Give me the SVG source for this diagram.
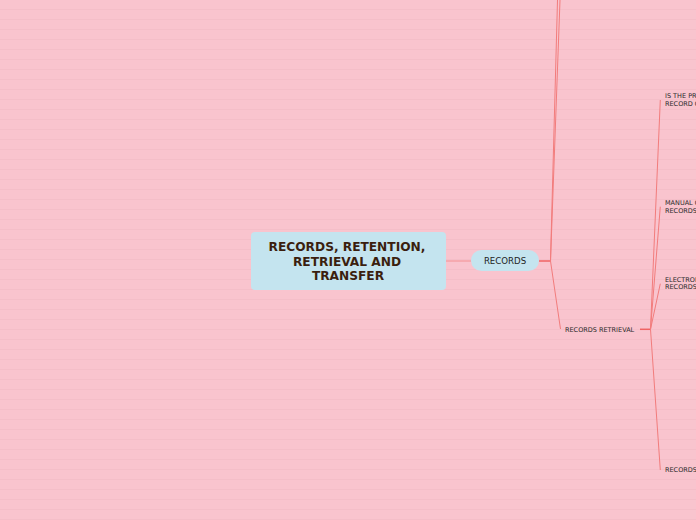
<svg xmlns="http://www.w3.org/2000/svg" width="696" height="520" viewBox="0 0 696 520">
<defs>
<pattern id="stripes" x="0" y="0" width="696" height="10" patternUnits="userSpaceOnUse">
<rect x="0" y="0" width="696" height="10" fill="#F9C4CE"/>
<rect x="0" y="9" width="696" height="1" fill="#F4BEC8"/>
</pattern>
<style>
.conn{fill:none;stroke:#F27C7C;stroke-width:1;}
.connsoft{fill:none;stroke:#F4A2A6;stroke-width:1.5;}
.connbold{fill:none;stroke:#EF6464;stroke-width:1.5;}
.main{fill:#C4E4EF;}
.maintxt{font-family:"DejaVu Sans",Verdana,sans-serif;font-weight:bold;font-size:12.2px;fill:#3B1E0E;text-anchor:middle;}
.pilltxt{font-family:"DejaVu Sans",Verdana,sans-serif;font-size:8.6px;fill:#222;text-anchor:middle;}
.leaf{font-family:"DejaVu Sans",Verdana,sans-serif;font-size:6.5px;fill:#2a2a2a;}
</style>
</defs>
<rect x="0" y="0" width="696" height="520" fill="url(#stripes)"/>
<g id="connectors">
<line class="connsoft" x1="446" y1="261" x2="471" y2="261"/>
<line class="connbold" x1="539" y1="261" x2="550.5" y2="261"/>
<line class="conn" x1="550.5" y1="261" x2="557.5" y2="0"/>
<line class="conn" x1="550.5" y1="261" x2="560" y2="0"/>
<line class="conn" x1="550.5" y1="261" x2="560.5" y2="329"/>
<line class="connbold" x1="640" y1="329.3" x2="650.5" y2="329.3"/>
<line class="conn" x1="650.5" y1="329.3" x2="660.3" y2="100"/>
<line class="conn" x1="650.5" y1="329.3" x2="660.3" y2="206.7"/>
<line class="conn" x1="650.5" y1="329.3" x2="660.3" y2="283.7"/>
<line class="conn" x1="650.5" y1="329.3" x2="660.3" y2="470"/>
</g>
<g id="node-main">
<rect class="main" x="251" y="232" width="195" height="58" rx="4"/>
<text class="maintxt" x="347" y="250.7">RECORDS, RETENTION,</text>
<text class="maintxt" x="347" y="265.7">RETRIEVAL AND</text>
<text class="maintxt" x="348" y="280">TRANSFER</text>
</g>
<g id="node-records">
<rect class="main" x="471" y="250" width="68" height="21" rx="10.5"/>
<text class="pilltxt" x="505" y="264">RECORDS</text>
</g>
<g id="node-retrieval">
<text class="leaf" x="565" y="332">RECORDS RETRIEVAL</text>
</g>
<g id="node-is-the">
<text class="leaf" x="665" y="97.7">IS THE PR</text>
<text class="leaf" x="665" y="105.7">RECORD C</text>
</g>
<g id="node-manual">
<text class="leaf" x="665" y="204.7">MANUAL C</text>
<text class="leaf" x="665" y="212.7">RECORDS</text>
</g>
<g id="node-electronic">
<text class="leaf" x="665" y="281.7">ELECTRON</text>
<text class="leaf" x="665" y="289.3">RECORDS</text>
</g>
<g id="node-records-bottom">
<text class="leaf" x="665" y="471.7">RECORDS</text>
</g>
</svg>
